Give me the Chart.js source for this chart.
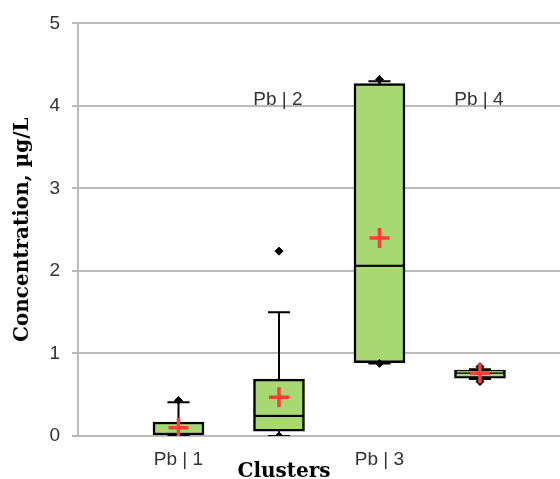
<!DOCTYPE html>
<html>
<head>
<meta charset="utf-8">
<script src="https://cdn.jsdelivr.net/npm/chart.js@4/dist/chart.umd.min.js"></script>
<style>
  html, body { margin: 0; padding: 0; background: #fff; overflow: hidden; }
  #wrap { width: 600px; height: 479px; }
</style>
</head>
<body>
<div id="wrap"><canvas id="c" width="600" height="479"></canvas></div>
<script>
// ---- data ----
const categories = ['Pb | 1', 'Pb | 2', 'Pb | 3', 'Pb | 4'];
const q1 = [0.00, 0.06, 0.89, 0.70];
const median = [0.00, 0.23, 2.05, 0.755];
const q3 = [0.17, 0.69, 4.27, 0.80];
const whiskerLow = [0.00, 0.00, 0.88, 0.69];
const whiskerHigh = [0.41, 1.50, 4.30, 0.81];
const minVals = [0.00, 0.00, 0.88, 0.66];
const maxVals = [0.43, 2.24, 4.32, 0.84];
const means = [0.10, 0.47, 2.40, 0.76];
const yTicks = [0, 1, 2, 3, 4, 5];
const bottomLabelIdx = [0, 2];
const topLabelIdx = [1, 3];

const CAP = 0.11;
const pos = categories.map((_, i) => i + 1);

const lowerBox = pos.map((x, i) => ({ x, y: [q1[i], median[i]] }));
const upperBox = pos.map((x, i) => ({ x, y: [median[i], q3[i]] }));

const whiskerPts = [];
pos.forEach((x, i) => {
  whiskerPts.push({ x, y: q3[i] }, { x, y: whiskerHigh[i] }, { x, y: null });
  whiskerPts.push({ x: x - CAP, y: whiskerHigh[i] }, { x: x + CAP, y: whiskerHigh[i] }, { x, y: null });
  whiskerPts.push({ x, y: q1[i] }, { x, y: whiskerLow[i] }, { x, y: null });
  whiskerPts.push({ x: x - CAP, y: whiskerLow[i] }, { x: x + CAP, y: whiskerLow[i] }, { x, y: null });
});
const extremePts = [];
pos.forEach((x, i) => { extremePts.push({ x, y: minVals[i] }, { x, y: maxVals[i] }); });
const meanPts = pos.map((x, i) => ({ x, y: means[i] }));

const TICK_FONT = { family: "'Liberation Sans', Arial, sans-serif", size: 19 };
const TITLE_FONT = "bold 20px 'DejaVu Serif', serif";

const labelPlugin = {
  id: 'labels',
  afterDraw(chart) {
    const { ctx, scales } = chart;
    const xs = scales.x, ys = scales.y;
    ctx.save();
    ctx.fillStyle = '#333333';
    ctx.font = `${TICK_FONT.size}px ${TICK_FONT.family}`;
    ctx.textAlign = 'center';
    ctx.textBaseline = 'alphabetic';
    topLabelIdx.forEach(i => {
      ctx.fillText(categories[i], xs.getPixelForValue(pos[i]) - 1, ys.getPixelForValue(4) - 1);
    });
    ctx.fillStyle = '#000';
    ctx.font = TITLE_FONT;
    ctx.fillText('Clusters', xs.getPixelForValue(2.05), chart.chartArea.bottom + 41);
    ctx.restore();
  }
};

new Chart(document.getElementById('c'), {
  type: 'bar',
  data: {
    datasets: [
      { type: 'line', data: meanPts, showLine: false, pointStyle: 'cross', pointRadius: 10,
        pointBorderWidth: 3.5, pointBorderColor: '#FF3B3B', pointBackgroundColor: '#FF3B3B', order: 0 },
      { type: 'line', data: extremePts, showLine: false, pointStyle: 'rectRot', pointRadius: 4,
        pointBorderWidth: 1, pointBorderColor: '#000', pointBackgroundColor: '#000', order: 1 },
      { type: 'line', data: whiskerPts, spanGaps: false, borderColor: '#000', borderWidth: 2,
        pointRadius: 0, tension: 0, order: 2 },
      { data: lowerBox, backgroundColor: '#A8D872', borderColor: '#000', borderWidth: 2.5,
        borderSkipped: 'top', barThickness: 51, grouped: false, order: 3 },
      { data: upperBox, backgroundColor: '#A8D872', borderColor: '#000', borderWidth: 2.5,
        borderSkipped: false, barThickness: 51, grouped: false, order: 3 }
    ]
  },
  options: {
    responsive: false,
    animation: false,
    devicePixelRatio: 1,
    layout: { padding: { left: 0, top: 20, right: 2, bottom: 0 } },
    plugins: { legend: { display: false }, tooltip: { enabled: false } },
    scales: {
      x: {
        type: 'linear', min: 0, max: 5.06, offset: false,
        grid: { display: false, drawTicks: false, offset: false },
        border: { display: false },
        afterBuildTicks(scale) { scale.ticks = bottomLabelIdx.map(i => ({ value: pos[i] })); },
        afterFit(scale) { scale.height = 43; },
        ticks: {
          autoSkip: false, maxRotation: 0, padding: 12, color: '#333333', font: TICK_FONT,
          callback: (v) => categories[v - 1]
        }
      },
      y: {
        type: 'linear', min: 0, max: 5,
        afterBuildTicks(scale) { scale.ticks = yTicks.map(v => ({ value: v })); },
        afterFit(scale) { scale.width = 78; },
        grid: { color: '#BBBBBB', lineWidth: 2, drawTicks: true, tickLength: 6 },
        border: { display: true, color: '#BBBBBB', width: 2 },
        ticks: { padding: 12, color: '#333333', font: TICK_FONT },
        title: {
          display: true, text: 'Concentration, µg/L', color: '#000',
          font: { family: "'DejaVu Serif', serif", size: 20, weight: 'bold' },
          padding: { top: 11, bottom: 0 }
        }
      }
    }
  },
  plugins: [labelPlugin]
});
</script>
</body>
</html>
